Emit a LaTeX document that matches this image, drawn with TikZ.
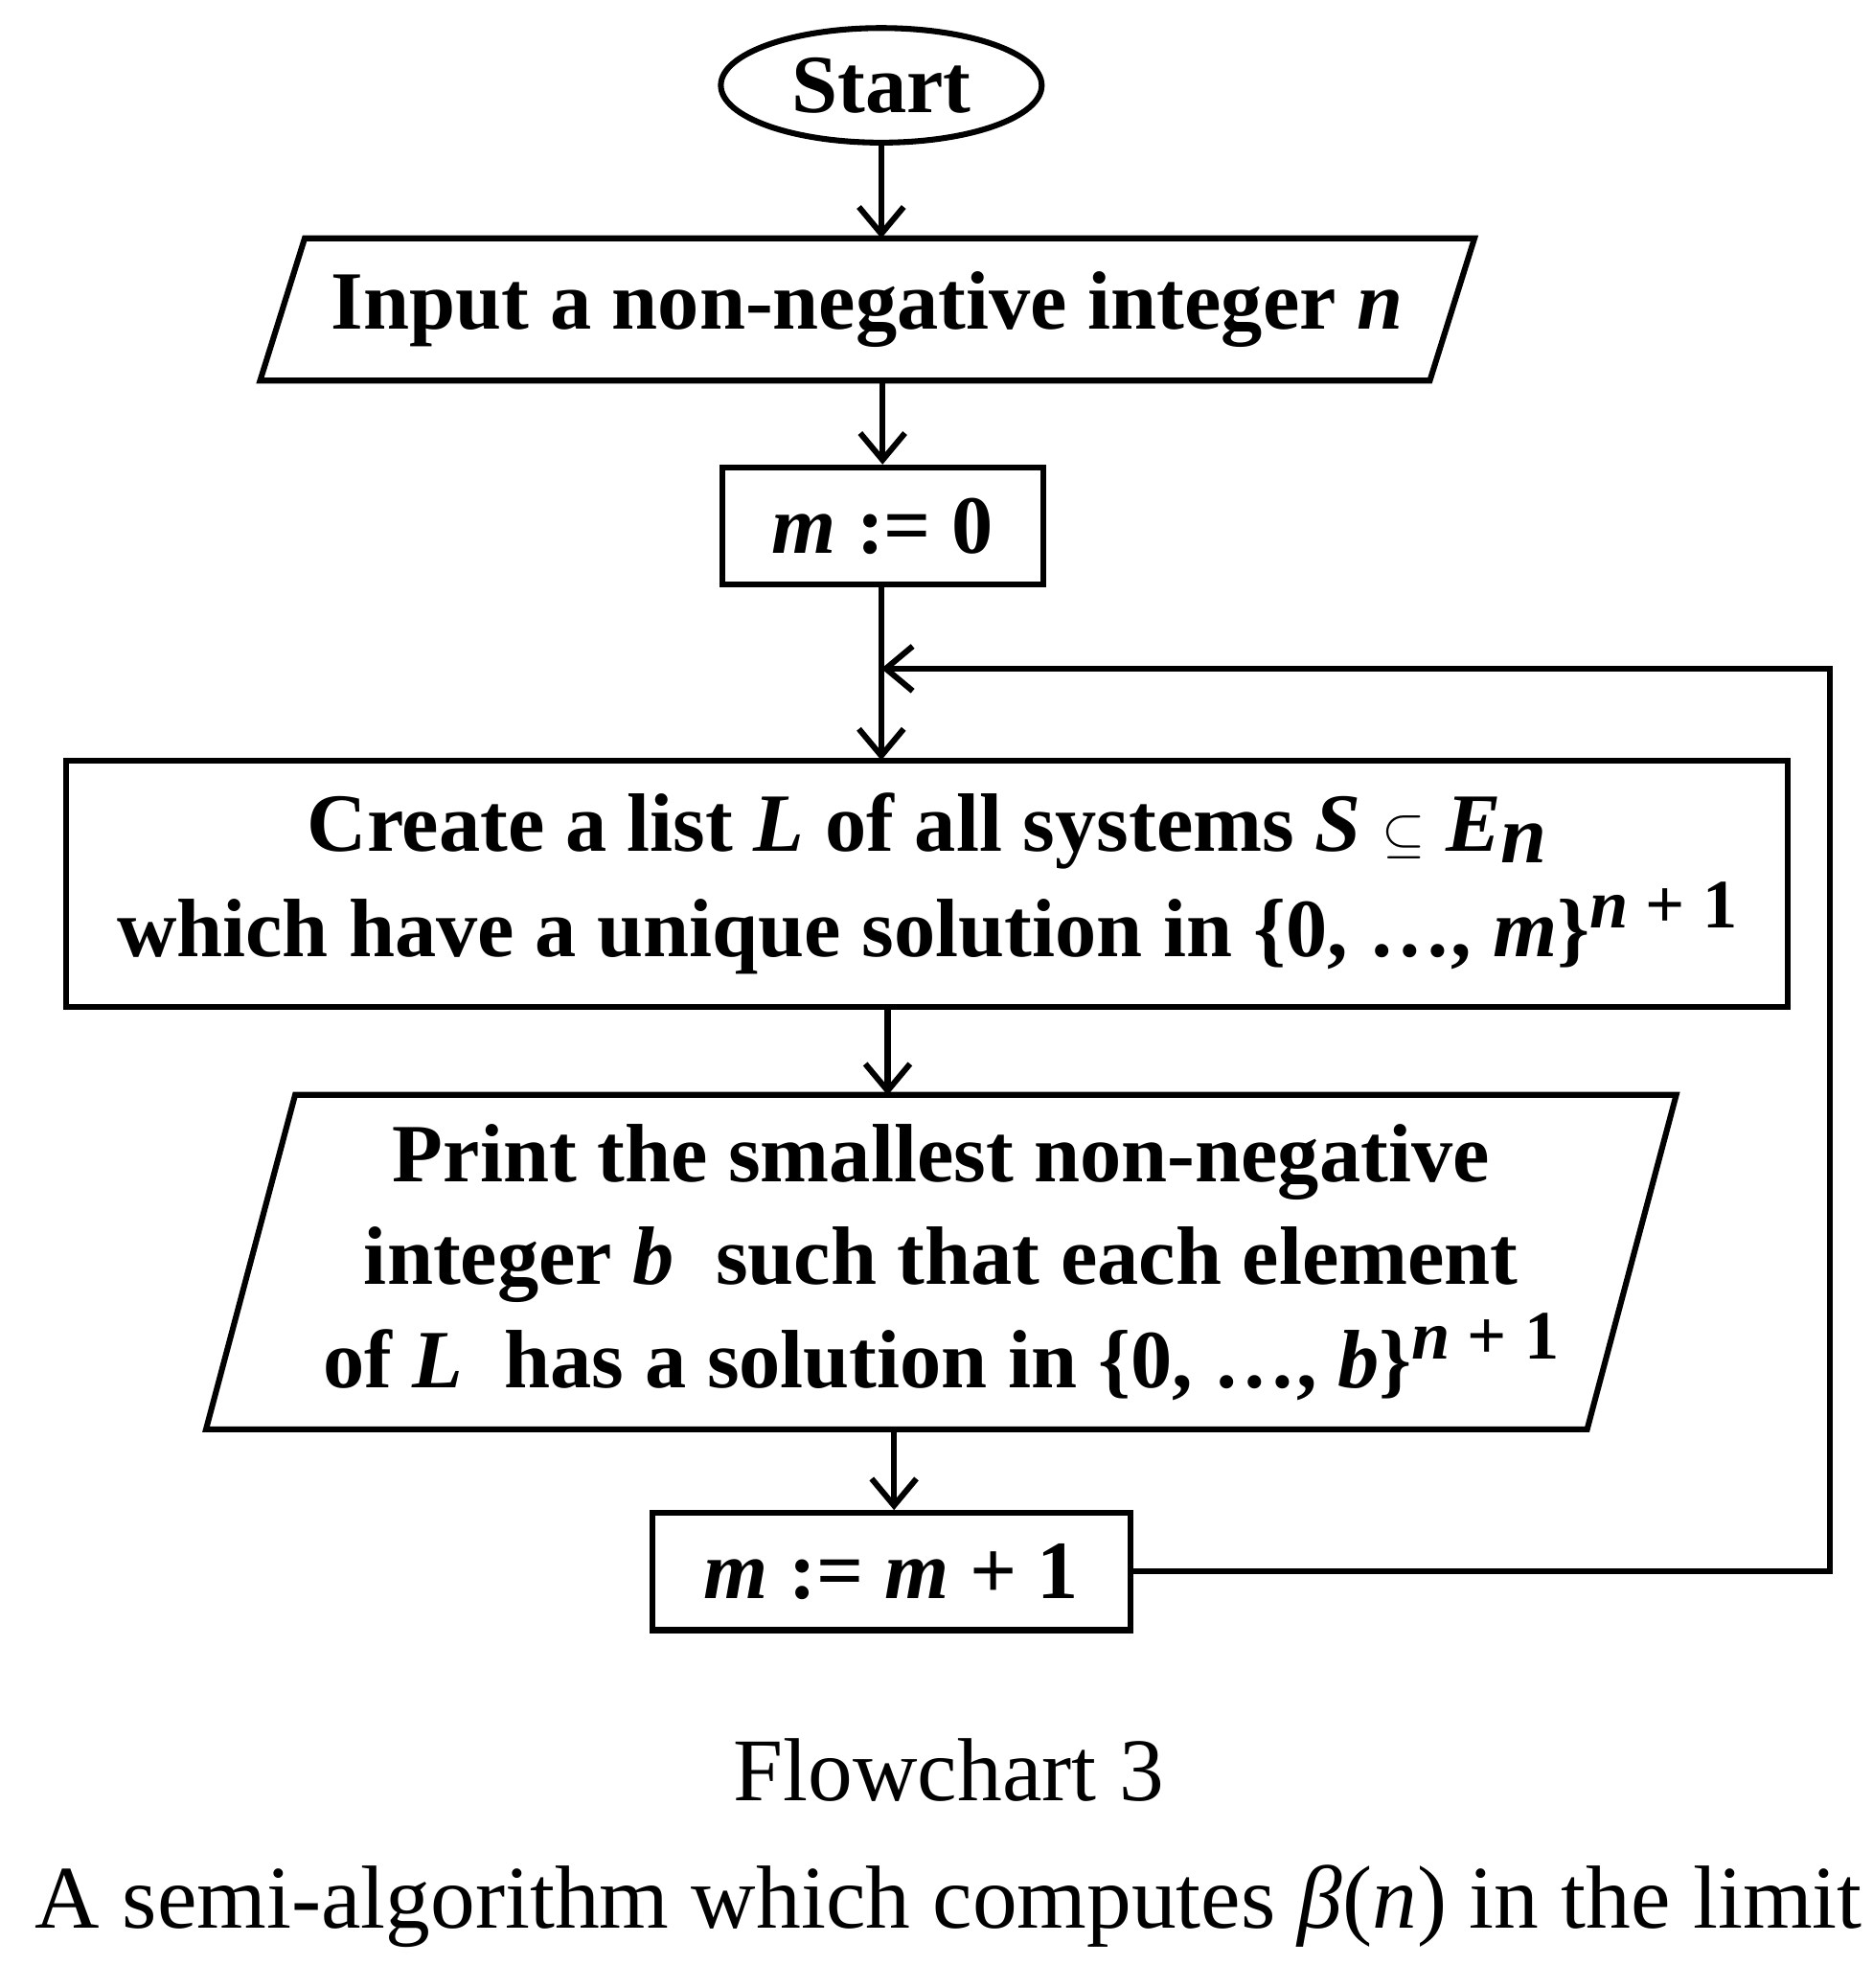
\documentclass[tikz,border=0pt]{standalone}
\usepackage{fontspec}
\setmainfont{Liberation Serif}
\usetikzlibrary{shapes.geometric,arrows.meta}
\newcommand{\powtxt}[1]{\raisebox{0.75ex}{\fontsize{31}{31}\selectfont #1}}
\begin{document}
\begin{tikzpicture}[x=0.02cm,y=-0.02cm,
	box/.style={draw, line width=2.6pt, font=\bfseries\fontsize{37}{47}\selectfont, align=center, inner sep=0pt},
	io/.style={font=\bfseries\fontsize{37}{46}\selectfont, align=center, inner sep=0pt},
	flow/.style={line width=2.6pt, -{Straight Barb[length=12pt,width=20pt,line width=2.6pt]}}]
	\useasboundingbox (0,0) rectangle (1470,1561);

	% Knuter
	\node[box, ellipse, minimum width=5.04cm, minimum height=1.8cm] (start) at (692,67) {Start};
	\node[io, minimum width=18.36cm, minimum height=2.22cm] (input) at (681,243) {Input a non-negative integer \textit{n}};
	\draw[line width=2.6pt] ([xshift=0.35cm]input.north west) -- ([xshift=0.35cm]input.north east)
		-- ([xshift=-0.35cm]input.south east) -- ([xshift=-0.35cm]input.south west) -- cycle;
	\node[box, minimum width=5.04cm, minimum height=1.84cm] (init) at (693,413) {\textit{m} := 0};
	\node[box, minimum width=27.04cm, minimum height=3.88cm] (create) at (728,694)
		{Create a list \textit{L} of all systems \textit{S} $\subseteq$ \textit{E}\raisebox{-0.3ex}{\textit{n}}\\
		 which have a unique solution in \{0, \ldots, \textit{m}\}\powtxt{\textit{n} + 1}};
	\node[io, minimum width=21.68cm, minimum height=5.24cm] (print) at (739,991)
		{Print the smallest non-negative\\
		 integer \textit{b} \ such that each element\\
		 of \textit{L} \ has a solution in \{0, \ldots, \textit{b}\}\powtxt{\textit{n} + 1}};
	\draw[line width=2.6pt] ([xshift=0.7cm]print.north west) -- ([xshift=0.7cm]print.north east)
		-- ([xshift=-0.7cm]print.south east) -- ([xshift=-0.7cm]print.south west) -- cycle;
	\node[box, minimum width=7.52cm, minimum height=1.84cm] (incr) at (700,1234) {\textit{m} := \textit{m} + 1};

	% Forbindelser
	\draw[flow] (start) -- (start |- input.north);
	\draw[flow] (input.south -| init) -- (init);
	\draw[flow] (init.south -| 692,0) -- (692,597);
	\draw[flow] (697,791) -- (697,860);
	\draw[flow] (702,1122) -- (incr.north -| 702,0);
	\coordinate (loopdown) at (1437,1234);
	\coordinate (loopup) at (1437,525);
	\coordinate (join) at (692,525);
	\draw[flow] (incr.east) -- (loopdown) -- (loopup) -- (join);

	% Tekst
	\node[font=\fontsize{40}{46}\selectfont] (title) at (745,1390) {Flowchart 3};
	\node[font=\fontsize{40}{46}\selectfont] (caption) at (745,1497) {A semi-algorithm which computes \textit{β}(\textit{n}) in the limit};
\end{tikzpicture}
\end{document}
